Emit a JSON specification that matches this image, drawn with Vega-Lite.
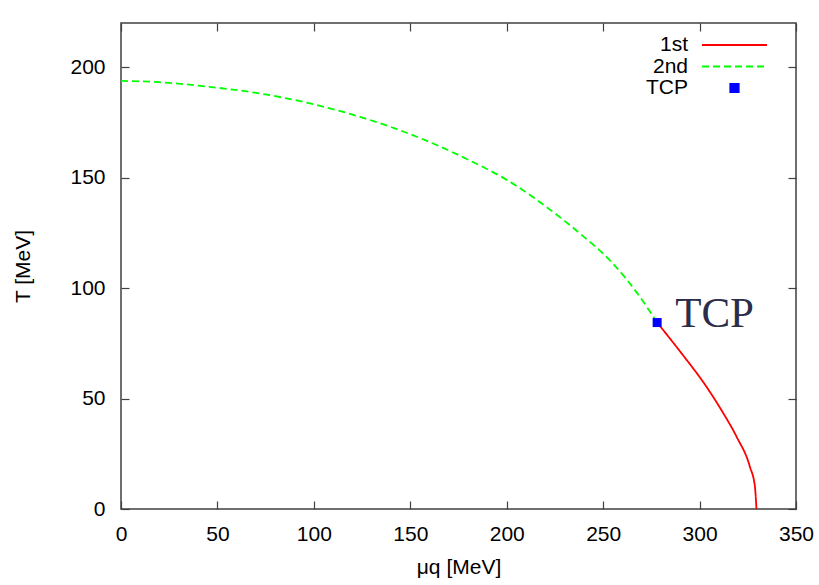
{
  "$schema": "https://vega.github.io/schema/vega-lite/v6.json",
  "width": 675,
  "height": 486,
  "autosize": {"type": "none"},
  "padding": {"left": 121, "top": 23, "right": 23, "bottom": 76},
  "background": "white",
  "config": {
    "font": "Liberation Sans",
    "view": {"stroke": "#404040", "strokeWidth": 1.5},
    "axis": {
      "domain": false,
      "grid": false,
      "tickSize": 8,
      "offset": -8,
      "tickColor": "#404040",
      "tickWidth": 1.2,
      "labelFlush": false,
      "labelFont": "Liberation Sans",
      "labelFontSize": 21,
      "labelColor": "#000000",
      "titleFont": "Liberation Sans",
      "titleFontSize": 21,
      "titleFontWeight": "normal",
      "titleColor": "#000000"
    }
  },
  "datasets": {
    "curves": [
      {"series": "2nd", "mu": 0, "T": 193.8},
      {"series": "2nd", "mu": 20, "T": 193.2},
      {"series": "2nd", "mu": 46, "T": 191.1},
      {"series": "2nd", "mu": 72, "T": 188.1},
      {"series": "2nd", "mu": 98, "T": 183.6},
      {"series": "2nd", "mu": 124, "T": 177.5},
      {"series": "2nd", "mu": 149, "T": 170.0},
      {"series": "2nd", "mu": 177, "T": 159.4},
      {"series": "2nd", "mu": 203, "T": 147.4},
      {"series": "2nd", "mu": 220.5, "T": 136.8},
      {"series": "2nd", "mu": 238, "T": 124.7},
      {"series": "2nd", "mu": 255, "T": 111.2},
      {"series": "2nd", "mu": 269, "T": 96.1},
      {"series": "2nd", "mu": 278, "T": 84.4},
      {"series": "1st", "mu": 278, "T": 84.4},
      {"series": "1st", "mu": 290, "T": 71.2},
      {"series": "1st", "mu": 303.6, "T": 55.3},
      {"series": "1st", "mu": 312.2, "T": 43.5},
      {"series": "1st", "mu": 319.2, "T": 32.7},
      {"series": "1st", "mu": 326.1, "T": 19.1},
      {"series": "1st", "mu": 328.7, "T": 10.1},
      {"series": "1st", "mu": 329.5, "T": 0}
    ],
    "tcp": [
      {"series": "TCP", "mu": 278, "T": 84.4, "label": "TCP"}
    ]
  },
  "layer": [
    {
      "data": {"name": "curves"},
      "mark": {"type": "line", "strokeWidth": 1.8, "interpolate": "monotone"},
      "encoding": {
        "x": {
          "field": "mu", "type": "quantitative",
          "scale": {"domain": [0, 350], "nice": false, "zero": false},
          "axis": {"orient": "bottom", "values": [0, 50, 100, 150, 200, 250, 300, 350], "title": "μq [MeV]", "labelPadding": 14, "titlePadding": 12}
        },
        "y": {
          "field": "T", "type": "quantitative",
          "scale": {"domain": [0, 220], "nice": false, "zero": false},
          "axis": {"orient": "left", "values": [0, 50, 100, 150, 200], "title": "T [MeV]", "labelPadding": 16, "titlePadding": 36}
        },
        "color": {
          "field": "series", "type": "nominal",
          "scale": {"domain": ["1st", "2nd", "TCP"], "range": ["#ff0000", "#00ff00", "#0000ff"]},
          "legend": {
            "orient": "none",
            "legendX": 602.5,
            "legendY": 11,
            "title": null,
            "padding": 0,
            "symbolSize": 400,
            "symbolStrokeWidth": 1.8,
            "rowPadding": 0.5,
            "labelAlign": "right",
            "labelOffset": -57.5,
            "labelFont": "Liberation Sans",
            "labelFontSize": 21,
            "labelColor": "#000000",
            "encode": {
              "symbols": {
                "update": {
                  "shape": {"signal": "(datum.value === 'TCP' ? 'M-0.42,-0.42H0.42V0.42H-0.42Z' : 'M-3.25,0H3.25')"},
                  "strokeDash": {"signal": "(datum.value === '2nd' ? [7, 4] : [1, 0])"},
                  "stroke": {"signal": "(datum.value === '1st' ? '#ff0000' : (datum.value === '2nd' ? '#00ff00' : 'transparent'))"},
                  "fill": {"signal": "(datum.value === 'TCP' ? '#0000ff' : 'transparent')"},
                  "opacity": {"value": 1}
                }
              }
            }
          }
        },
        "strokeDash": {
          "field": "series", "type": "nominal",
          "scale": {"domain": ["1st", "2nd"], "range": [[1, 0], [7, 4]]},
          "legend": null
        }
      }
    },
    {
      "data": {"name": "tcp"},
      "mark": {"type": "point", "shape": "square", "filled": true, "size": 81, "opacity": 1},
      "encoding": {
        "x": {
          "field": "mu", "type": "quantitative",
          "axis": {"orient": "top", "values": [0, 50, 100, 150, 200, 250, 300, 350], "labels": false, "title": null}
        },
        "y": {
          "field": "T", "type": "quantitative",
          "axis": {"orient": "right", "values": [0, 50, 100, 150, 200], "labels": false, "title": null}
        },
        "color": {"field": "series", "type": "nominal"}
      }
    },
    {
      "data": {"name": "tcp"},
      "mark": {"type": "text", "align": "left", "baseline": "alphabetic", "dx": 18, "dy": 4, "font": "Liberation Serif", "fontSize": 43, "color": "#2b2d4b"},
      "encoding": {
        "x": {"field": "mu", "type": "quantitative", "axis": null},
        "y": {"field": "T", "type": "quantitative", "axis": null},
        "text": {"field": "label"}
      }
    }
  ],
  "resolve": {"axis": {"x": "independent", "y": "independent"}}
}
